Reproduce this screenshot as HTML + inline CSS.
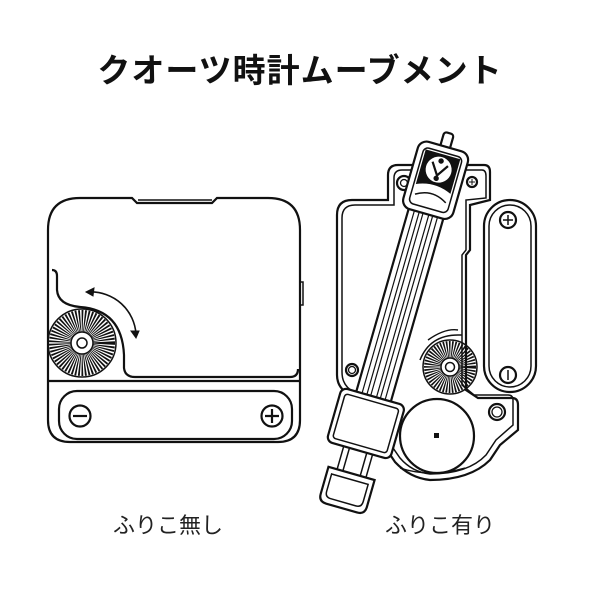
<!DOCTYPE html>
<html><head><meta charset="utf-8"><style>
body{margin:0;background:#fff;width:600px;height:600px;overflow:hidden}
.t{position:absolute;left:0;width:600px;text-align:center;font-family:"Liberation Sans","Noto Sans CJK JP",sans-serif}
</style></head><body>
<div class="t" style="top:44px;font-size:33px;font-weight:bold;color:#111;letter-spacing:1px">クオーツ時計ムーブメント</div>
<div class="t" style="top:508px;left:-132px;font-size:22px;color:#222">ふりこ無し</div>
<div class="t" style="top:508px;left:140px;font-size:22px;color:#222">ふりこ有り</div>
<svg width="600" height="600" style="position:absolute;left:0;top:0" fill="none" stroke="#111" stroke-width="2.2">
<!-- LEFT -->
<path d="M48 230 Q48 198 80 198 L132 198 L137 203 L212 203 L217 198 L268 198 Q300 198 300 230 L300 420 Q300 442 278 442 L70 442 Q48 442 48 420 Z" fill="#fff"/>
<path d="M138 200 L212 200" stroke-width="1.5"/>
<path d="M300 282 L303 282 L303 305 L300 305" stroke-width="1.5"/>
<path d="M48 381 L300 381" />
<path d="M52 270 Q57 270 57 276 L57 290 Q58 305 80 307 Q122 310 124 355 L124 368 Q125 377 135 377 L290 377 Q298 377 298 369"/>
<rect x="59" y="391" width="233" height="48" rx="18"/>
<circle cx="80" cy="416" r="10.5"/><path d="M73 416 L87 416"/>
<circle cx="272" cy="416" r="10.5"/><path d="M265 416 L279 416 M272 409 L272 423"/>
<path d="M90 292 A45 45 0 0 1 136 334" stroke-width="1.6"/>
<path d="M86 292 L94 288 L93 296 Z M136 338 L131 331 L139 331 Z" fill="#111" stroke-width="1"/>
<g transform="translate(82,343)">
<circle r="34" stroke-width="1.5"/>
<circle r="22" stroke="#111" stroke-width="22" stroke-dasharray="1.3 1.1" fill="none"/>
<circle r="11" fill="#fff" stroke-width="1.5"/><circle r="5" stroke-width="1.5"/>
</g>
<!-- RIGHT body -->
<path d="M388 175 Q388 165 398 165 L484 165 Q490 165 490 172 L490 200 L470 205 L470 250 L466 255 L466 390 L478 398 L512 398 Q518 398 518 405 L518 430 L500 445 L490 460 Q470 480 430 480 Q410 478 395 462 L350 395 Q337 388 337 375 L337 215 Q337 200 352 200 L388 200 Z" fill="#fff"/>
<path d="M394 178 Q394 170 402 170 L482 170 Q486 170 486 176 L486 198 L466 200 L466 250 L462 255 L462 385 L474 395 L508 395 Q513 395 513 400 L513 425 L496 440 L486 455 Q468 474 430 474 Q412 472 400 458 L354 392 Q342 386 342 372 L342 218 Q342 205 355 205 L394 205 Z" stroke-width="1.5"/>
<path d="M420 360 Q430 335 458 335 L462 335" stroke-width="1.5"/>
<path d="M428 340 Q445 328 458 330" stroke-width="1.4"/>
<rect x="484" y="200" width="52" height="192" rx="26"/>
<rect x="489" y="205" width="42" height="182" rx="21" stroke-width="1.5"/>
<circle cx="508" cy="220" r="8"/><path d="M503 220 L513 220 M508 215 L508 225" stroke-width="1.5"/>
<circle cx="508" cy="375" r="8"/><path d="M508 370 L508 380" stroke-width="1.5"/>
<circle cx="404" cy="183" r="7"/><circle cx="404" cy="183" r="3.5" stroke-width="1.3"/>
<circle cx="472" cy="182" r="5"/><path d="M469 182 L475 182 M472 179 L472 185" stroke-width="1"/>
<circle cx="352" cy="370" r="6"/><circle cx="352" cy="370" r="3.5" stroke-width="1.3"/>
<circle cx="497" cy="412" r="8"/><circle cx="497" cy="412" r="5" stroke-width="1.3"/>
<circle cx="437" cy="436" r="37" fill="#fff"/>
<rect x="434" y="433" width="5" height="5" fill="#111" stroke="none"/>
<path d="M400 468 Q430 478 465 468" stroke-width="1.4"/>
<g transform="translate(450,367)">
<circle r="27" stroke-width="1.5"/>
<circle r="17" stroke="#111" stroke-width="18" stroke-dasharray="1.2 1" fill="none"/>
<circle r="9" fill="#fff" stroke-width="1.5"/><circle r="4.5" stroke-width="1.5"/>
</g>
<!-- pendulum -->
<g transform="translate(448,137) rotate(16)">
<rect x="-5" y="-4" width="10" height="18" rx="3" fill="#fff"/>
<path d="M-18 75 L-18 272 L18 272 L18 75" fill="#fff"/>
<path d="M-12 75 L-12 272 M-7 75 L-7 272 M-3 75 L-3 272 M3 75 L3 272 M7 75 L7 272 M12 75 L12 272" stroke-width="1.2"/>
<rect x="-26" y="10" width="52" height="70" rx="9" fill="#fff"/>
<rect x="-20" y="16" width="40" height="58" rx="5" stroke-width="1.5"/>
<path d="M-18 18 L18 18 L18 54 Q0 46 -18 54 Z" fill="#111" stroke="none"/>
<circle cx="0" cy="34" r="13" fill="#fff" stroke="none"/>
<path d="M-8 28 L0 40 L8 28" stroke="#111" stroke-width="2.2"/>
<circle cx="0" cy="25" r="2.7" fill="#111" stroke="none"/><circle cx="0" cy="43" r="2.7" fill="#111" stroke="none"/>
<path d="M-16 64 Q0 54 16 64" stroke-width="1.5"/>
<path d="M-15 325 L-15 350 M15 325 L15 350 M-9 325 L-9 350 M9 325 L9 350" stroke-width="1.5"/>
<rect x="-33" y="270" width="66" height="56" rx="6" fill="#fff"/>
<rect x="-28" y="275" width="56" height="46" rx="3" stroke-width="1.5"/>
<path d="M-24 350 L24 350 L24 378 Q24 386 16 386 L-16 386 Q-24 386 -24 378 Z" fill="#fff"/>
<path d="M-19 356 L19 356 L19 374 Q19 380 13 380 L-13 380 Q-19 380 -19 374 Z" stroke-width="1.5"/>
</g>
</svg>
</body></html>
